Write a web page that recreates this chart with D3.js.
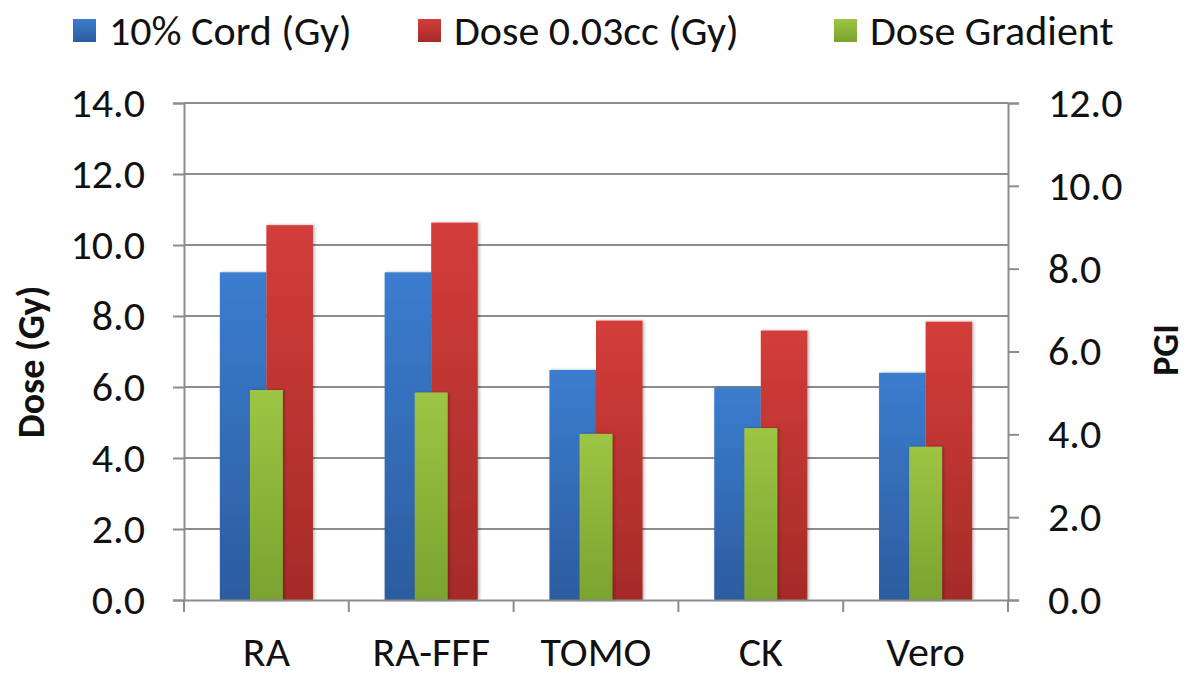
<!DOCTYPE html>
<meta charset="utf-8">
<script src="https://d3js.org/d3.v7.min.js"></script>
<body style="margin:0;background:#fff">
<div id="chart"></div>
</body>
<script>
    // data
    const categories = ["RA", "RA-FFF", "TOMO", "CK", "Vero"];
    const cordDose = [9.23, 9.23, 6.48, 5.99, 6.40];       // 10% Cord (Gy)
    const dose003cc = [10.56, 10.63, 7.87, 7.59, 7.84];    // Dose 0.03cc (Gy)
    const doseGradient = [5.07, 5.01, 4.01, 4.15, 3.70];   // PGI, right axis
    const leftTicks = [0, 2, 4, 6, 8, 10, 12, 14];
    const rightTicks = [0, 2, 4, 6, 8, 10, 12];
    const seriesNames = ["10% Cord (Gy)", "Dose 0.03cc (Gy)", "Dose Gradient"];

    const W = 1190, H = 677;
    const margin = {top: 103, right: 182, bottom: 77, left: 184};
    const font = "Carlito, 'Liberation Sans Narrow', Lato, 'Open Sans', sans-serif";
    const fs = 42;

    const svg = d3.select("#chart").append("svg")
      .attr("width", W).attr("height", H)
      .style("font-family", font);

    const defs = svg.append("defs");
    const grads = [
      {id: "gBlue", top: "#3b7dcf", bottom: "#2c5c9f"},
      {id: "gRed", top: "#d33d3a", bottom: "#a52b28"},
      {id: "gGreen", top: "#9dc544", bottom: "#7aa32f"}
    ];
    grads.forEach(g => {
      const lg = defs.append("linearGradient").attr("id", g.id)
        .attr("x1", 0).attr("y1", 0).attr("x2", 0).attr("y2", 1);
      lg.append("stop").attr("offset", "0%").attr("stop-color", g.top);
      lg.append("stop").attr("offset", "100%").attr("stop-color", g.bottom);
    });
    const shadow = defs.append("filter").attr("id", "shadow")
      .attr("x", "-20%").attr("y", "-5%").attr("width", "140%").attr("height", "110%");
    shadow.append("feDropShadow").attr("dx", 1.5).attr("dy", 0).attr("stdDeviation", 1.5)
      .attr("flood-color", "#000").attr("flood-opacity", 0.3);

    const x0 = margin.left, x1 = W - margin.right;
    const yTop = margin.top, yBot = H - margin.bottom;

    const x = d3.scaleBand().domain(categories).range([x0, x1]).padding(0);
    const xSub = d3.scaleBand().domain(["cord", "dose"]).range([0, x.bandwidth()])
      .paddingInner(0).paddingOuter(0.77);
    const yL = d3.scaleLinear().domain([0, 14]).range([yBot, yTop]);
    const yR = d3.scaleLinear().domain([0, 12]).range([yBot, yTop]);

    // gridlines
    svg.append("g").selectAll("line").data(leftTicks.slice(1)).join("line")
      .attr("x1", x0).attr("x2", x1)
      .attr("y1", d => yL(d)).attr("y2", d => yL(d))
      .attr("stroke", "#8c8c8c").attr("stroke-width", 2);

    // left axis
    const axL = svg.append("g").attr("transform", `translate(${x0},0)`)
      .call(d3.axisLeft(yL).tickValues(leftTicks).tickFormat(d3.format(".1f")).tickSize(11).tickPadding(28));
    // right axis
    const axR = svg.append("g").attr("transform", `translate(${x1},0)`)
      .call(d3.axisRight(yR).tickValues(rightTicks).tickFormat(d3.format(".1f")).tickSize(11).tickPadding(29));
    [axL, axR].forEach(a => {
      a.select(".domain").attr("stroke", "#8c8c8c").attr("stroke-width", 2);
      a.selectAll(".tick line").attr("stroke", "#8c8c8c").attr("stroke-width", 2);
      a.selectAll(".tick text").attr("font-size", fs).attr("fill", "#111").attr("font-family", font);
    });

    // bars
    const groups = svg.append("g").selectAll("g").data(categories).join("g")
      .attr("transform", d => `translate(${x(d)},0)`);
    groups.append("rect")
      .attr("x", xSub("cord")).attr("width", xSub.bandwidth())
      .attr("y", (d, i) => yL(cordDose[i])).attr("height", (d, i) => yBot - yL(cordDose[i]))
      .attr("fill", "url(#gBlue)").attr("filter", "url(#shadow)");
    groups.append("rect")
      .attr("x", xSub("dose")).attr("width", xSub.bandwidth())
      .attr("y", (d, i) => yL(dose003cc[i])).attr("height", (d, i) => yBot - yL(dose003cc[i]))
      .attr("fill", "url(#gRed)").attr("filter", "url(#shadow)");
    const gw = x.bandwidth() * 0.2;
    groups.append("rect")
      .attr("x", x.bandwidth() / 2 - gw / 2).attr("width", gw)
      .attr("y", (d, i) => yR(doseGradient[i])).attr("height", (d, i) => yBot - yR(doseGradient[i]))
      .attr("fill", "url(#gGreen)").attr("filter", "url(#shadow)");

    // bottom axis
    const axB = svg.append("g").attr("transform", `translate(0,${yBot})`)
      .call(d3.axisBottom(x).tickSize(0).tickPadding(36));
    axB.select(".domain").attr("stroke", "#8c8c8c").attr("stroke-width", 2);
    axB.selectAll(".tick text").attr("font-size", fs).attr("fill", "#111").attr("font-family", font);
    axB.append("g").selectAll("line").data(d3.range(categories.length + 1)).join("line")
      .attr("x1", i => x0 + i * x.step()).attr("x2", i => x0 + i * x.step())
      .attr("y1", 0).attr("y2", 12)
      .attr("stroke", "#8c8c8c").attr("stroke-width", 2);

    // axis titles
    svg.append("text")
      .attr("transform", `translate(44,362) rotate(-90)`)
      .attr("text-anchor", "middle").attr("font-size", 38).attr("font-weight", "bold")
      .attr("fill", "#111").text("Dose (Gy)");
    svg.append("text")
      .attr("transform", `translate(1178,350) rotate(-90)`)
      .attr("text-anchor", "middle").attr("font-size", 36).attr("font-weight", "bold")
      .attr("fill", "#111").text("PGI");

    // legend
    const legX = [73, 418, 834];
    const legFill = ["url(#gBlue)", "url(#gRed)", "url(#gGreen)"];
    const leg = svg.append("g").selectAll("g").data(seriesNames).join("g")
      .attr("transform", (d, i) => `translate(${legX[i]},0)`);
    leg.append("rect").attr("x", 0).attr("y", 19).attr("width", 23).attr("height", 23)
      .attr("fill", (d, i) => legFill[i]);
    leg.append("text").attr("x", 36).attr("y", 45)
      .attr("font-size", fs).attr("fill", "#111").text(d => d);
</script>
